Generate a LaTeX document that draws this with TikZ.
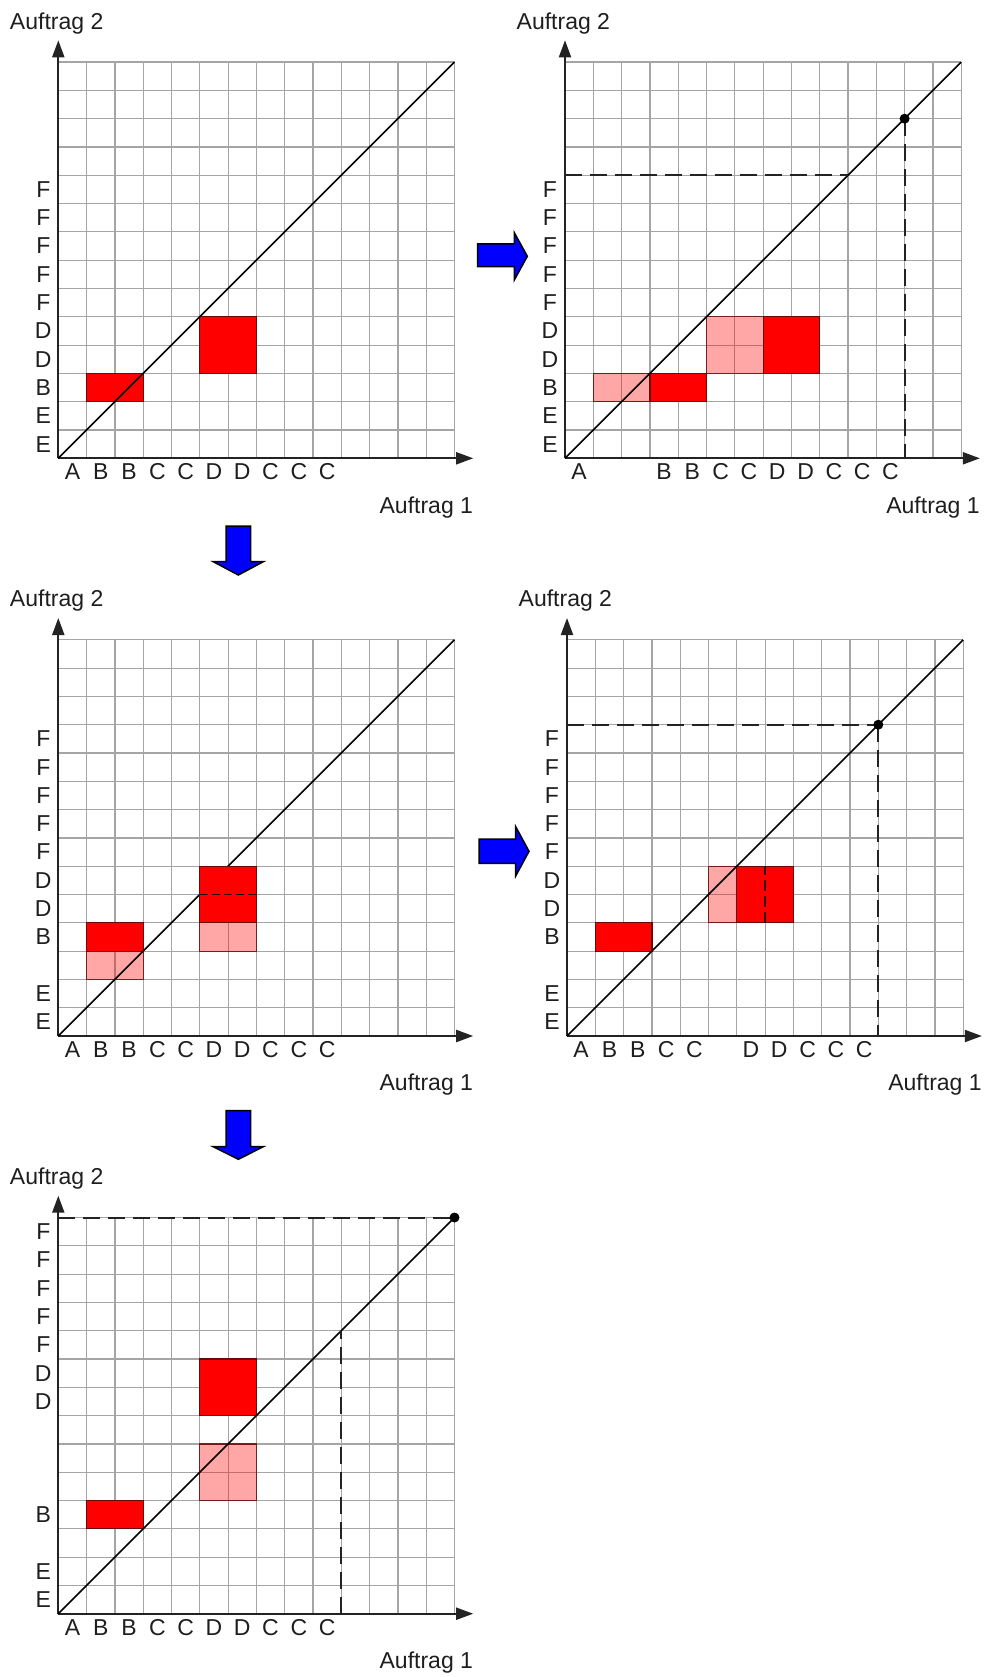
\documentclass[tikz,border=0pt]{standalone}
\usepackage{fontspec}
\setmainfont{Liberation Sans}
\usetikzlibrary{arrows.meta}
\definecolor{gridgray}{RGB}{165,165,165}
\definecolor{axisdark}{RGB}{35,35,35}
\definecolor{boxedge}{RGB}{105,10,10}
\definecolor{txt}{RGB}{30,30,30}
\definecolor{arrowblue}{RGB}{0,0,255}
\tikzset{
  gridline/.style={draw=gridgray,line width=1.2pt},
  axisline/.style={draw=axisdark,line width=2pt,-{Triangle[length=17pt,width=12pt]}},
  diagline/.style={draw=black,line width=1.6pt},
  redbox/.style={fill=red,draw=boxedge,line width=1.2pt},
  pinkbox/.style={fill=red,fill opacity=0.35,draw=boxedge,draw opacity=0.85,line width=1.2pt},
  dashline/.style={draw=axisdark,line width=2pt,dash pattern=on 17pt off 8pt},
  innerdash/.style={draw=black!80!red,line width=1.4pt,dash pattern=on 8pt off 4pt},
  lab/.style={font=\fontsize{23}{27}\selectfont,text=txt,inner sep=0pt},
  bluearrow/.style={fill=arrowblue,draw=black,line width=1.5pt,line join=miter},
  panel/.style={x=28.3pt,y=28.3pt}
}
\newcommand\axesgrid[1]{%
  \foreach \i in {1,...,14} {\draw[gridline] (\i,0) -- (\i,14); \draw[gridline] (0,\i) -- (14,\i);}
  \coordinate (#1o) at (0,0);
  \coordinate (#1xe) at (14.66,0);
  \coordinate (#1ye) at (0,14.77);
  \coordinate (#1tr) at (14,14);
  \draw[axisline] (#1o) -- (#1xe);
  \draw[axisline] (#1o) -- (#1ye);
  \node[lab,anchor=base west] (#1t2) at (-1.714,15.16) {Auftrag 2};
  \node[lab,anchor=base east] (#1t1) at (14.66,-1.943) {Auftrag 1};
}
\newcommand\diag[1]{\draw[diagline] (#1o) -- (#1tr);}
\newcommand\xlabs[2]{\foreach \c/\t in {#2} {\node[lab] (#1x\c) at (\c+0.5,-0.477) {\t};}}
\newcommand\ylabs[2]{\foreach \r/\t in {#2} {\node[lab] (#1y\r) at (-0.53,\r+0.5) {\t};}}
\begin{document}
\begin{tikzpicture}[x=1pt,y=-1pt]
\useasboundingbox (0,0) rectangle (987,1677);

% ---------- Panel 1 ----------
\begin{scope}[shift={(58.3,458.3)},panel]
  \axesgrid{a}
  \draw[redbox] (1,2) rectangle (3,3);
  \draw[redbox] (5,3) rectangle (7,5);
  \diag{a}
  \xlabs{a}{0/A,1/B,2/B,3/C,4/C,5/D,6/D,7/C,8/C,9/C}
  \ylabs{a}{0/E,1/E,2/B,3/D,4/D,5/F,6/F,7/F,8/F,9/F}
\end{scope}

% ---------- Panel 2 ----------
\begin{scope}[shift={(565,458.3)},panel]
  \axesgrid{b}
  \draw[pinkbox] (1,2) rectangle (3,3);
  \draw[redbox] (3,2) rectangle (5,3);
  \draw[pinkbox] (5,3) rectangle (7,5);
  \draw[redbox] (7,3) rectangle (9,5);
  \diag{b}
  \coordinate (bh0) at (0,10); \coordinate (bh1) at (10,10);
  \coordinate (bd) at (12,12); \coordinate (bv0) at (12,0);
  \draw[dashline] (bh0) -- (bh1);
  \draw[dashline] (bd) -- (bv0);
  \fill (bd) circle (5pt);
  \xlabs{b}{0/A,3/B,4/B,5/C,6/C,7/D,8/D,9/C,10/C,11/C}
  \ylabs{b}{0/E,1/E,2/B,3/D,4/D,5/F,6/F,7/F,8/F,9/F}
\end{scope}

% ---------- Panel 3 ----------
\begin{scope}[shift={(58.3,1036)},panel]
  \axesgrid{c}
  \draw[pinkbox] (1,2) rectangle (3,3);
  \draw[redbox] (1,3) rectangle (3,4);
  \draw[pinkbox] (5,3) rectangle (7,4);
  \diag{c}
  \draw[redbox] (5,4) rectangle (7,6);
  \coordinate (cm0) at (5,5); \coordinate (cm1) at (7,5);
  \draw[innerdash] (cm0) -- (cm1);
  \xlabs{c}{0/A,1/B,2/B,3/C,4/C,5/D,6/D,7/C,8/C,9/C}
  \ylabs{c}{0/E,1/E,3/B,4/D,5/D,6/F,7/F,8/F,9/F,10/F}
\end{scope}

% ---------- Panel 4 ----------
\begin{scope}[shift={(567,1036)},panel]
  \axesgrid{d}
  \draw[redbox] (1,3) rectangle (3,4);
  \draw[pinkbox] (5,4) rectangle (6,6);
  \draw[redbox] (6,4) rectangle (8,6);
  \coordinate (dm0) at (7,4); \coordinate (dm1) at (7,6);
  \draw[innerdash,line width=1.8pt,dash pattern=on 11pt off 5pt] (dm0) -- (dm1);
  \diag{d}
  \coordinate (dh0) at (0,11); \coordinate (dd) at (11,11); \coordinate (dv0) at (11,0);
  \draw[dashline] (dh0) -- (dd);
  \draw[dashline] (dd) -- (dv0);
  \fill (dd) circle (5pt);
  \xlabs{d}{0/A,1/B,2/B,3/C,4/C,6/D,7/D,8/C,9/C,10/C}
  \ylabs{d}{0/E,1/E,3/B,4/D,5/D,6/F,7/F,8/F,9/F,10/F}
\end{scope}

% ---------- Panel 5 ----------
\begin{scope}[shift={(58.3,1613.7)},panel]
  \axesgrid{e}
  \draw[redbox] (1,3) rectangle (3,4);
  \draw[pinkbox] (5,4) rectangle (7,6);
  \draw[redbox] (5,7) rectangle (7,9);
  \diag{e}
  \coordinate (eh0) at (0,14);
  \coordinate (ev0) at (10,0); \coordinate (ev1) at (10,10);
  \draw[dashline] (eh0) -- (etr);
  \draw[dashline] (ev0) -- (ev1);
  \fill (etr) circle (5pt);
  \xlabs{e}{0/A,1/B,2/B,3/C,4/C,5/D,6/D,7/C,8/C,9/C}
  \ylabs{e}{0/E,1/E,3/B,7/D,8/D,9/F,10/F,11/F,12/F,13/F}
\end{scope}

% ---------- Blue arrows ----------
\draw[bluearrow] (477.7,244) -- (514.3,244) -- (514.3,232.7) -- (527.3,256.3) -- (514.3,280) -- (514.3,266.7) -- (477.7,266.7) -- cycle;
\draw[bluearrow] (479,839) -- (515.7,839) -- (515.7,826.7) -- (529,851.3) -- (515.7,876) -- (515.7,863.3) -- (479,863.3) -- cycle;
\draw[bluearrow] (226,526) -- (250.7,526) -- (250.7,561.7) -- (263.3,561.7) -- (238.3,575) -- (213.3,561.7) -- (226,561.7) -- cycle;
\draw[bluearrow] (226,1110.7) -- (250.7,1110.7) -- (250.7,1146.7) -- (263.3,1146.7) -- (238.3,1159.3) -- (213.3,1146.7) -- (226,1146.7) -- cycle;
\end{tikzpicture}
\end{document}
